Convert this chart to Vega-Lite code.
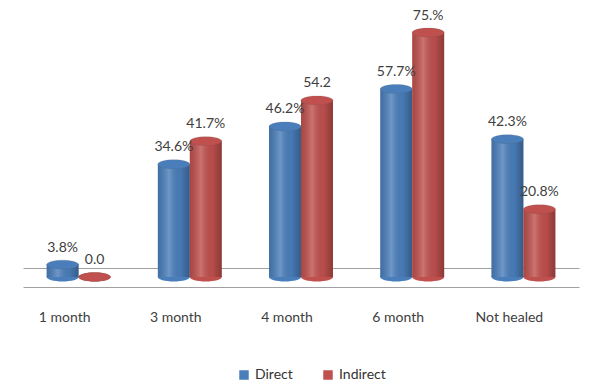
{
  "$schema": "https://vega.github.io/schema/vega-lite/v6.json",
  "width": 556,
  "height": 277,
  "autosize": {"type": "none"},
  "padding": {"left": 23, "top": 0, "right": 12, "bottom": 108},
  "background": "white",
  "config": {
    "view": {"stroke": null},
    "font": "Lato"
  },
  "data": {
    "values": [
      {"period": "1 month", "group": "Direct", "value": 3.8, "label": "3.8%"},
      {"period": "1 month", "group": "Indirect", "value": 0.0, "label": "0.0"},
      {"period": "3 month", "group": "Direct", "value": 34.6, "label": "34.6%"},
      {"period": "3 month", "group": "Indirect", "value": 41.7, "label": "41.7%"},
      {"period": "4 month", "group": "Direct", "value": 46.2, "label": "46.2%"},
      {"period": "4 month", "group": "Indirect", "value": 54.2, "label": "54.2"},
      {"period": "6 month", "group": "Direct", "value": 57.7, "label": "57.7%"},
      {"period": "6 month", "group": "Indirect", "value": 75.0, "label": "75.%"},
      {"period": "Not healed", "group": "Direct", "value": 42.3, "label": "42.3%"},
      {"period": "Not healed", "group": "Indirect", "value": 20.8, "label": "20.8%"}
    ]
  },
  "encoding": {
    "x": {
      "field": "period", "type": "nominal", "sort": null,
      "scale": {"paddingInner": 0.425, "paddingOuter": 0.2125},
      "axis": {
        "title": null, "labelAngle": 0, "ticks": false, "offset": 10,
        "domainColor": "#a0a0a0", "domainWidth": 1,
        "labelPadding": 23, "labelOffset": -14,
        "labelFontSize": 14, "labelColor": "#404040", "labelFont": "Lato"
      }
    },
    "xOffset": {"field": "group", "type": "nominal"},
    "y": {
      "field": "value", "type": "quantitative",
      "scale": {"domain": [0, 85], "nice": false},
      "axis": {
        "title": null, "values": [2.8], "grid": true, "gridColor": "#a0a0a0", "gridWidth": 1,
        "domain": false, "ticks": false, "labels": false
      }
    }
  },
  "layer": [
    {
      "mark": {"type": "point", "shape": "M-1,0A1,0.28,0,1,1,1,0A1,0.28,0,1,1,-1,0Z", "size": 1024, "filled": true, "opacity": 1},
      "encoding": {
        "y": {"datum": 0},
        "color": {"field": "group", "type": "nominal"}
      }
    },
    {
      "mark": {"type": "bar"},
      "encoding": {
        "color": {
          "field": "group", "type": "nominal",
          "scale": {"domain": ["Direct", "Indirect"], "range": ["#4a7ebb", "#c0504d"]},
          "legend": {
            "title": null, "orient": "none", "direction": "horizontal",
            "legendX": 214, "legendY": 368,
            "symbolType": "square", "symbolSize": 90, "symbolStrokeWidth": 0,
            "labelFontSize": 14, "labelColor": "#333333", "labelFont": "Lato",
            "columnPadding": 28, "labelOffset": 4
          }
        }
      }
    },
    {
      "mark": {
        "type": "bar",
        "fill": {"gradient": "linear", "x1": 0, "x2": 1, "y1": 0, "y2": 0,
          "stops": [
            {"offset": 0, "color": "rgba(0,0,0,0.12)"},
            {"offset": 0.35, "color": "rgba(255,255,255,0.2)"},
            {"offset": 0.7, "color": "rgba(0,0,0,0.04)"},
            {"offset": 1, "color": "rgba(0,0,0,0.28)"}
          ]}
      }
    },
    {
      "mark": {"type": "point", "shape": "M-1,0A1,0.28,0,1,1,1,0A1,0.28,0,1,1,-1,0Z", "size": 1024, "filled": true, "opacity": 1, "stroke": "#555555", "strokeWidth": 0.5, "strokeOpacity": 0.35},
      "encoding": {
        "color": {"field": "group", "type": "nominal"}
      }
    },
    {
      "mark": {"type": "text", "dy": -17, "fontSize": 14, "color": "#404040", "font": "Lato"},
      "encoding": {
        "text": {"field": "label"}
      }
    }
  ]
}
